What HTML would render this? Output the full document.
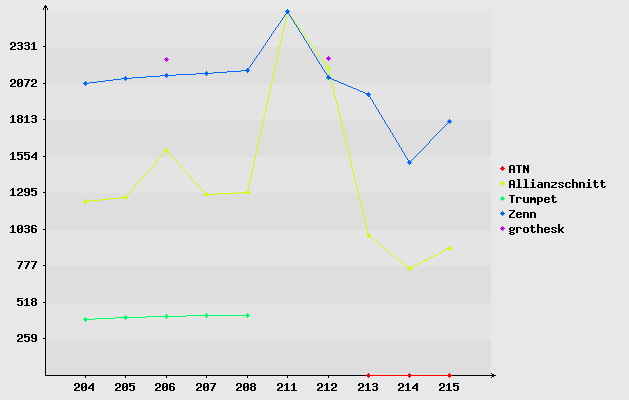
<!DOCTYPE html><html><head><meta charset="utf-8"><title>chart</title><style>
html,body{margin:0;padding:0;background:#e8e8e8;}body{width:629px;height:400px;overflow:hidden;}svg{display:block;}
</style></head><body>
<svg width="629" height="400" viewBox="0 0 629 400" shape-rendering="crispEdges">
<rect x="0" y="0" width="629" height="400" fill="#e8e8e8"/>
<rect x="46" y="10" width="445" height="37" fill="#e4e4e4"/>
<rect x="46" y="47" width="445" height="37" fill="#dedede"/>
<rect x="46" y="84" width="445" height="36" fill="#e4e4e4"/>
<rect x="46" y="120" width="445" height="37" fill="#dedede"/>
<rect x="46" y="157" width="445" height="36" fill="#e4e4e4"/>
<rect x="46" y="193" width="445" height="37" fill="#dedede"/>
<rect x="46" y="230" width="445" height="36" fill="#e4e4e4"/>
<rect x="46" y="266" width="445" height="37" fill="#dedede"/>
<rect x="46" y="303" width="445" height="36" fill="#e4e4e4"/>
<rect x="46" y="339" width="445" height="37" fill="#dedede"/>
<path fill="#000000" d="M43 8h1v2h-1zM43 46h3v1h-3zM43 83h3v1h-3zM43 119h3v1h-3zM43 156h3v1h-3zM43 192h3v1h-3zM43 229h3v1h-3zM43 265h3v1h-3zM43 302h3v1h-3zM43 338h3v1h-3zM44 6h3v2h-3zM45 5h1v1h-1zM45 8h1v38h-1zM45 47h1v36h-1zM45 84h1v35h-1zM45 120h1v36h-1zM45 157h1v35h-1zM45 193h1v36h-1zM45 230h1v35h-1zM45 266h1v36h-1zM45 303h1v35h-1zM45 339h1v36h-1zM45 375h451v1h-451zM47 8h1v2h-1zM85 376h1v2h-1zM125 376h1v2h-1zM166 376h1v2h-1zM206 376h1v2h-1zM247 376h1v2h-1zM287 376h1v2h-1zM328 376h1v2h-1zM368 376h1v2h-1zM409 376h1v2h-1zM449 376h1v2h-1zM491 373h1v1h-1zM491 377h1v1h-1zM492 374h2v1h-2zM492 376h2v1h-2z"/>
<path fill="#ff0000" d="M366 375h86v1h-86zM367 374h3v1h-3zM367 376h3v1h-3zM368 373h1v1h-1zM368 377h1v1h-1zM408 374h3v1h-3zM408 376h3v1h-3zM409 373h1v1h-1zM409 377h1v1h-1zM448 374h3v1h-3zM448 376h3v1h-3zM449 373h1v1h-1zM449 377h1v1h-1z"/>
<path fill="#ccff00" d="M83 201h7v1h-7zM84 200h3v1h-3zM84 202h3v1h-3zM85 199h1v1h-1zM85 203h1v1h-1zM90 200h10v1h-10zM100 199h10v1h-10zM110 198h10v1h-10zM120 197h8v1h-8zM124 196h3v1h-3zM124 198h3v1h-3zM125 195h1v1h-1zM125 199h1v1h-1zM127 195h1v1h-1zM128 193h1v2h-1zM129 192h1v1h-1zM130 191h1v1h-1zM131 190h1v1h-1zM132 189h1v1h-1zM133 188h1v1h-1zM134 187h1v1h-1zM135 185h1v2h-1zM136 184h1v1h-1zM137 183h1v1h-1zM138 182h1v1h-1zM139 181h1v1h-1zM140 180h1v1h-1zM141 179h1v1h-1zM142 177h1v2h-1zM143 176h1v1h-1zM144 175h1v1h-1zM145 174h1v1h-1zM146 173h1v1h-1zM147 172h1v1h-1zM148 171h1v1h-1zM149 169h1v2h-1zM150 168h1v1h-1zM151 167h1v1h-1zM152 166h1v1h-1zM153 165h1v1h-1zM154 164h1v1h-1zM155 163h1v1h-1zM156 161h1v2h-1zM157 160h1v1h-1zM158 159h1v1h-1zM159 158h1v1h-1zM160 157h1v1h-1zM161 156h1v1h-1zM162 155h1v1h-1zM163 153h1v2h-1zM164 152h1v1h-1zM164 150h5v1h-5zM165 149h3v1h-3zM165 151h3v1h-3zM166 148h1v1h-1zM166 152h1v1h-1zM168 152h1v1h-1zM169 153h1v1h-1zM170 154h1v1h-1zM171 155h1v2h-1zM172 157h1v1h-1zM173 158h1v1h-1zM174 159h1v1h-1zM175 160h1v1h-1zM176 161h1v1h-1zM177 162h1v1h-1zM178 163h1v1h-1zM179 164h1v1h-1zM180 165h1v1h-1zM181 166h1v2h-1zM182 168h1v1h-1zM183 169h1v1h-1zM184 170h1v1h-1zM185 171h1v1h-1zM186 172h1v1h-1zM187 173h1v1h-1zM188 174h1v1h-1zM189 175h1v1h-1zM190 176h1v1h-1zM191 177h1v2h-1zM192 179h1v1h-1zM193 180h1v1h-1zM194 181h1v1h-1zM195 182h1v1h-1zM196 183h1v1h-1zM197 184h1v1h-1zM198 185h1v1h-1zM199 186h1v1h-1zM200 187h1v1h-1zM201 188h1v2h-1zM202 190h1v1h-1zM203 191h1v1h-1zM204 192h1v1h-1zM204 194h13v1h-13zM205 193h3v1h-3zM205 195h3v1h-3zM206 192h1v1h-1zM206 196h1v1h-1zM217 193h20v1h-20zM237 192h13v1h-13zM246 191h3v1h-3zM246 193h3v1h-3zM247 190h1v1h-1zM247 194h1v1h-1zM248 186h1v4h-1zM249 181h1v5h-1zM250 177h1v4h-1zM251 172h1v5h-1zM252 168h1v4h-1zM253 163h1v5h-1zM254 159h1v4h-1zM255 154h1v5h-1zM256 150h1v4h-1zM257 145h1v5h-1zM258 140h1v5h-1zM259 136h1v4h-1zM260 131h1v5h-1zM261 127h1v4h-1zM262 122h1v5h-1zM263 118h1v4h-1zM264 113h1v5h-1zM265 109h1v4h-1zM266 104h1v5h-1zM267 100h1v4h-1zM268 95h1v5h-1zM269 91h1v4h-1zM270 86h1v5h-1zM271 82h1v4h-1zM272 77h1v5h-1zM273 73h1v4h-1zM274 68h1v5h-1zM275 64h1v4h-1zM276 59h1v5h-1zM277 54h1v5h-1zM278 50h1v4h-1zM279 45h1v5h-1zM280 41h1v4h-1zM281 36h1v5h-1zM282 32h1v4h-1zM283 27h1v5h-1zM284 23h1v4h-1zM285 18h1v5h-1zM285 11h5v1h-5zM286 14h1v4h-1zM286 10h3v1h-3zM286 12h3v1h-3zM287 9h1v1h-1zM287 13h2v1h-2zM289 14h1v1h-1zM290 15h1v1h-1zM291 16h1v2h-1zM292 18h1v1h-1zM293 19h1v2h-1zM294 21h1v1h-1zM295 22h1v1h-1zM296 23h1v2h-1zM297 25h1v1h-1zM298 26h1v1h-1zM299 27h1v2h-1zM300 29h1v1h-1zM301 30h1v2h-1zM302 32h1v1h-1zM303 33h1v1h-1zM304 34h1v2h-1zM305 36h1v1h-1zM306 37h1v2h-1zM307 39h1v1h-1zM308 40h1v1h-1zM309 41h1v2h-1zM310 43h1v1h-1zM311 44h1v2h-1zM312 46h1v1h-1zM313 47h1v1h-1zM314 48h1v2h-1zM315 50h1v1h-1zM316 51h1v2h-1zM317 53h1v1h-1zM318 54h1v1h-1zM319 55h1v2h-1zM320 57h1v1h-1zM321 58h1v1h-1zM322 59h1v2h-1zM323 61h1v1h-1zM324 62h1v2h-1zM325 64h1v1h-1zM326 65h1v1h-1zM326 68h5v1h-5zM327 66h2v1h-2zM327 67h3v1h-3zM327 69h3v1h-3zM328 70h1v1h-1zM329 71h1v4h-1zM330 75h1v4h-1zM331 79h1v4h-1zM332 83h1v4h-1zM333 87h1v4h-1zM334 91h1v5h-1zM335 96h1v4h-1zM336 100h1v4h-1zM337 104h1v4h-1zM338 108h1v4h-1zM339 112h1v5h-1zM340 117h1v4h-1zM341 121h1v4h-1zM342 125h1v4h-1zM343 129h1v4h-1zM344 133h1v4h-1zM345 137h1v5h-1zM346 142h1v4h-1zM347 146h1v4h-1zM348 150h1v4h-1zM349 154h1v4h-1zM350 158h1v4h-1zM351 162h1v5h-1zM352 167h1v4h-1zM353 171h1v4h-1zM354 175h1v4h-1zM355 179h1v4h-1zM356 183h1v4h-1zM357 187h1v5h-1zM358 192h1v4h-1zM359 196h1v4h-1zM360 200h1v4h-1zM361 204h1v4h-1zM362 208h1v5h-1zM363 213h1v4h-1zM364 217h1v4h-1zM365 221h1v4h-1zM366 225h1v4h-1zM366 235h5v1h-5zM367 229h1v4h-1zM367 234h3v1h-3zM367 236h3v1h-3zM368 233h1v1h-1zM368 237h1v1h-1zM370 237h2v1h-2zM372 238h1v1h-1zM373 239h1v1h-1zM374 240h1v1h-1zM375 241h2v1h-2zM377 242h1v1h-1zM378 243h1v1h-1zM379 244h1v1h-1zM380 245h2v1h-2zM382 246h1v1h-1zM383 247h1v1h-1zM384 248h1v1h-1zM385 249h2v1h-2zM387 250h1v1h-1zM388 251h1v1h-1zM389 252h1v1h-1zM390 253h1v1h-1zM391 254h2v1h-2zM393 255h1v1h-1zM394 256h1v1h-1zM395 257h1v1h-1zM396 258h2v1h-2zM398 259h1v1h-1zM399 260h1v1h-1zM400 261h1v1h-1zM401 262h2v1h-2zM403 263h1v1h-1zM404 264h1v1h-1zM405 265h1v1h-1zM406 266h2v1h-2zM407 268h5v1h-5zM408 269h3v1h-3zM408 267h4v1h-4zM409 266h1v1h-1zM409 270h1v1h-1zM412 266h2v1h-2zM414 265h2v1h-2zM416 264h2v1h-2zM418 263h2v1h-2zM420 262h2v1h-2zM422 261h2v1h-2zM424 260h2v1h-2zM426 259h2v1h-2zM428 258h2v1h-2zM430 257h2v1h-2zM432 256h2v1h-2zM434 255h2v1h-2zM436 254h2v1h-2zM438 253h2v1h-2zM440 252h2v1h-2zM442 251h2v1h-2zM444 250h2v1h-2zM446 249h5v1h-5zM447 248h5v1h-5zM448 247h3v1h-3zM449 246h1v1h-1zM449 250h1v1h-1z"/>
<path fill="#00ff66" d="M83 319h12v1h-12zM84 318h3v1h-3zM84 320h3v1h-3zM85 317h1v1h-1zM85 321h1v1h-1zM95 318h20v1h-20zM115 317h31v1h-31zM124 316h3v1h-3zM124 318h3v1h-3zM125 315h1v1h-1zM125 319h1v1h-1zM146 316h40v1h-40zM165 315h3v1h-3zM165 317h3v1h-3zM166 314h1v1h-1zM166 318h1v1h-1zM186 315h64v1h-64zM205 314h3v1h-3zM205 316h3v1h-3zM206 313h1v1h-1zM206 317h1v1h-1zM246 314h3v1h-3zM246 316h3v1h-3zM247 313h1v1h-1zM247 317h1v1h-1z"/>
<path fill="#0066ff" d="M83 83h6v1h-6zM84 82h3v1h-3zM84 84h3v1h-3zM85 81h1v1h-1zM85 85h1v1h-1zM89 82h8v1h-8zM97 81h8v1h-8zM105 80h8v1h-8zM113 79h8v1h-8zM121 78h11v1h-11zM124 77h3v1h-3zM124 79h3v1h-3zM125 76h1v1h-1zM125 80h1v1h-1zM132 77h14v1h-14zM146 76h14v1h-14zM160 75h16v1h-16zM165 74h3v1h-3zM165 76h3v1h-3zM166 73h1v1h-1zM166 77h1v1h-1zM176 74h20v1h-20zM196 73h17v1h-17zM205 72h3v1h-3zM205 74h3v1h-3zM206 71h1v1h-1zM206 75h1v1h-1zM213 72h14v1h-14zM227 71h14v1h-14zM241 70h9v1h-9zM246 69h3v1h-3zM246 71h3v1h-3zM247 72h1v1h-1zM247 68h2v1h-2zM249 67h1v1h-1zM250 65h1v2h-1zM251 64h1v1h-1zM252 62h1v2h-1zM253 61h1v1h-1zM254 59h1v2h-1zM255 58h1v1h-1zM256 56h1v2h-1zM257 55h1v1h-1zM258 54h1v1h-1zM259 52h1v2h-1zM260 51h1v1h-1zM261 49h1v2h-1zM262 48h1v1h-1zM263 46h1v2h-1zM264 45h1v1h-1zM265 43h1v2h-1zM266 42h1v1h-1zM267 40h1v2h-1zM268 39h1v1h-1zM269 37h1v2h-1zM270 36h1v1h-1zM271 34h1v2h-1zM272 33h1v1h-1zM273 31h1v2h-1zM274 30h1v1h-1zM275 28h1v2h-1zM276 27h1v1h-1zM277 26h1v1h-1zM278 24h1v2h-1zM279 23h1v1h-1zM280 21h1v2h-1zM281 20h1v1h-1zM282 18h1v2h-1zM283 17h1v1h-1zM284 15h1v2h-1zM285 14h1v1h-1zM285 11h5v1h-5zM286 10h3v1h-3zM286 12h3v2h-3zM287 9h1v1h-1zM289 14h1v2h-1zM290 16h1v1h-1zM291 17h1v2h-1zM292 19h1v1h-1zM293 20h1v2h-1zM294 22h1v2h-1zM295 24h1v1h-1zM296 25h1v2h-1zM297 27h1v1h-1zM298 28h1v2h-1zM299 30h1v2h-1zM300 32h1v1h-1zM301 33h1v2h-1zM302 35h1v1h-1zM303 36h1v2h-1zM304 38h1v2h-1zM305 40h1v1h-1zM306 41h1v2h-1zM307 43h1v1h-1zM308 44h1v2h-1zM309 46h1v2h-1zM310 48h1v1h-1zM311 49h1v2h-1zM312 51h1v2h-1zM313 53h1v1h-1zM314 54h1v2h-1zM315 56h1v1h-1zM316 57h1v2h-1zM317 59h1v2h-1zM318 61h1v1h-1zM319 62h1v2h-1zM320 64h1v1h-1zM321 65h1v2h-1zM322 67h1v2h-1zM323 69h1v1h-1zM324 70h1v2h-1zM325 72h1v1h-1zM326 73h1v2h-1zM326 77h5v1h-5zM327 75h2v1h-2zM327 76h3v1h-3zM327 78h5v1h-5zM328 79h1v1h-1zM332 79h2v1h-2zM334 80h3v1h-3zM337 81h2v1h-2zM339 82h2v1h-2zM341 83h3v1h-3zM344 84h2v1h-2zM346 85h2v1h-2zM348 86h3v1h-3zM351 87h2v1h-2zM353 88h3v1h-3zM356 89h2v1h-2zM358 90h2v1h-2zM360 91h3v1h-3zM363 92h2v1h-2zM365 93h5v1h-5zM366 94h5v1h-5zM367 95h3v1h-3zM368 92h1v1h-1zM368 96h2v1h-2zM370 97h1v2h-1zM371 99h1v1h-1zM372 100h1v2h-1zM373 102h1v2h-1zM374 104h1v1h-1zM375 105h1v2h-1zM376 107h1v2h-1zM377 109h1v1h-1zM378 110h1v2h-1zM379 112h1v2h-1zM380 114h1v1h-1zM381 115h1v2h-1zM382 117h1v2h-1zM383 119h1v1h-1zM384 120h1v2h-1zM385 122h1v2h-1zM386 124h1v1h-1zM387 125h1v2h-1zM388 127h1v1h-1zM389 128h1v2h-1zM390 130h1v2h-1zM391 132h1v1h-1zM392 133h1v2h-1zM393 135h1v2h-1zM394 137h1v1h-1zM395 138h1v2h-1zM396 140h1v2h-1zM397 142h1v1h-1zM398 143h1v2h-1zM399 145h1v2h-1zM400 147h1v1h-1zM401 148h1v2h-1zM402 150h1v2h-1zM403 152h1v1h-1zM404 153h1v2h-1zM405 155h1v2h-1zM406 157h1v1h-1zM407 158h1v2h-1zM407 162h5v1h-5zM408 160h2v1h-2zM408 161h3v1h-3zM408 163h3v1h-3zM409 164h1v1h-1zM411 160h1v1h-1zM412 159h1v1h-1zM413 158h1v1h-1zM414 157h1v1h-1zM415 156h1v1h-1zM416 155h1v1h-1zM417 154h1v1h-1zM418 153h1v1h-1zM419 152h1v1h-1zM420 151h1v1h-1zM421 150h1v1h-1zM422 149h1v1h-1zM423 148h1v1h-1zM424 147h1v1h-1zM425 146h1v1h-1zM426 145h1v1h-1zM427 144h1v1h-1zM428 143h1v1h-1zM429 141h1v2h-1zM430 140h1v1h-1zM431 139h1v1h-1zM432 138h1v1h-1zM433 137h1v1h-1zM434 136h1v1h-1zM435 135h1v1h-1zM436 134h1v1h-1zM437 133h1v1h-1zM438 132h1v1h-1zM439 131h1v1h-1zM440 130h1v1h-1zM441 129h1v1h-1zM442 128h1v1h-1zM443 127h1v1h-1zM444 126h1v1h-1zM445 125h1v1h-1zM446 124h1v1h-1zM447 123h1v1h-1zM447 121h5v1h-5zM448 120h3v1h-3zM448 122h3v1h-3zM449 119h1v1h-1zM449 123h1v1h-1z"/>
<path fill="#cc00ff" d="M164 59h5v1h-5zM165 58h3v1h-3zM165 60h3v1h-3zM166 57h1v1h-1zM166 61h1v1h-1zM326 58h5v1h-5zM327 57h3v1h-3zM327 59h3v1h-3zM328 56h1v1h-1zM328 60h1v1h-1z"/>
<path fill="#ff0000" d="M500 168h5v1h-5zM501 167h3v1h-3zM501 169h3v1h-3zM502 166h1v1h-1zM502 170h1v1h-1z"/>
<path fill="#ccff00" d="M500 183h5v1h-5zM501 182h3v1h-3zM501 184h3v1h-3zM502 181h1v1h-1zM502 185h1v1h-1z"/>
<path fill="#00ff66" d="M500 198h5v1h-5zM501 197h3v1h-3zM501 199h3v1h-3zM502 196h1v1h-1zM502 200h1v1h-1z"/>
<path fill="#0066ff" d="M500 213h5v1h-5zM501 212h3v1h-3zM501 214h3v1h-3zM502 211h1v1h-1zM502 215h1v1h-1z"/>
<path fill="#cc00ff" d="M500 228h5v1h-5zM501 227h3v1h-3zM501 229h3v1h-3zM502 226h1v1h-1zM502 230h1v1h-1z"/>
<path fill="#000000" d="M10 117h1v1h-1zM10 154h1v1h-1zM10 190h1v1h-1zM10 227h1v1h-1zM10 43h2v2h-2zM10 48h2v1h-2zM10 80h2v2h-2zM10 85h2v1h-2zM10 49h6v1h-6zM10 86h6v1h-6zM10 122h6v1h-6zM10 159h6v1h-6zM10 195h6v1h-6zM10 232h6v1h-6zM11 47h2v1h-2zM11 84h2v1h-2zM11 116h3v1h-3zM11 153h3v1h-3zM11 189h3v1h-3zM11 226h3v1h-3zM11 42h4v1h-4zM11 79h4v1h-4zM12 115h2v1h-2zM12 117h2v5h-2zM12 152h2v1h-2zM12 154h2v5h-2zM12 188h2v1h-2zM12 190h2v5h-2zM12 225h2v1h-2zM12 227h2v5h-2zM12 46h3v1h-3zM12 83h3v1h-3zM14 43h2v3h-2zM14 80h2v3h-2zM17 43h2v1h-2zM17 48h2v1h-2zM17 80h2v3h-2zM17 84h2v2h-2zM17 116h2v2h-2zM17 119h2v3h-2zM17 153h2v1h-2zM17 155h2v1h-2zM17 158h2v1h-2zM17 189h2v2h-2zM17 194h2v1h-2zM17 226h2v3h-2zM17 230h2v2h-2zM17 299h2v1h-2zM17 301h2v1h-2zM17 304h2v1h-2zM17 335h2v2h-2zM17 340h2v1h-2zM17 83h3v1h-3zM17 229h3v1h-3zM17 154h5v1h-5zM17 300h5v1h-5zM17 152h6v1h-6zM17 195h6v1h-6zM17 261h6v1h-6zM17 298h6v1h-6zM17 341h6v1h-6zM18 193h2v1h-2zM18 267h2v2h-2zM18 339h2v1h-2zM18 42h4v1h-4zM18 45h4v1h-4zM18 49h4v1h-4zM18 79h4v1h-4zM18 86h4v1h-4zM18 115h4v1h-4zM18 118h4v1h-4zM18 122h4v1h-4zM18 159h4v1h-4zM18 188h4v1h-4zM18 225h4v1h-4zM18 232h4v1h-4zM18 305h4v1h-4zM18 334h4v1h-4zM19 265h2v2h-2zM19 192h3v1h-3zM19 338h3v1h-3zM20 263h2v2h-2zM20 82h3v1h-3zM20 228h3v1h-3zM21 43h2v2h-2zM21 46h2v3h-2zM21 80h2v2h-2zM21 83h2v3h-2zM21 116h2v2h-2zM21 119h2v3h-2zM21 155h2v4h-2zM21 189h2v3h-2zM21 226h2v2h-2zM21 229h2v3h-2zM21 262h2v1h-2zM21 301h2v4h-2zM21 335h2v3h-2zM24 117h1v1h-1zM24 300h1v1h-1zM24 43h2v1h-2zM24 48h2v1h-2zM24 153h2v1h-2zM24 155h2v1h-2zM24 158h2v1h-2zM24 189h2v3h-2zM24 194h2v1h-2zM24 226h2v1h-2zM24 231h2v1h-2zM24 335h2v1h-2zM24 337h2v1h-2zM24 340h2v1h-2zM24 154h5v1h-5zM24 336h5v1h-5zM24 79h6v1h-6zM24 122h6v1h-6zM24 152h6v1h-6zM24 261h6v1h-6zM24 305h6v1h-6zM24 334h6v1h-6zM25 85h2v2h-2zM25 267h2v2h-2zM25 116h3v1h-3zM25 299h3v1h-3zM25 42h4v1h-4zM25 45h4v1h-4zM25 49h4v1h-4zM25 159h4v1h-4zM25 188h4v1h-4zM25 195h4v1h-4zM25 225h4v1h-4zM25 228h4v1h-4zM25 232h4v1h-4zM25 341h4v1h-4zM25 192h5v1h-5zM26 83h2v2h-2zM26 115h2v1h-2zM26 117h2v5h-2zM26 265h2v2h-2zM26 298h2v1h-2zM26 300h2v5h-2zM27 81h2v2h-2zM27 263h2v2h-2zM28 43h2v2h-2zM28 46h2v3h-2zM28 80h2v1h-2zM28 155h2v4h-2zM28 189h2v3h-2zM28 193h2v2h-2zM28 226h2v2h-2zM28 229h2v3h-2zM28 262h2v1h-2zM28 337h2v4h-2zM31 44h1v1h-1zM31 80h2v2h-2zM31 85h2v1h-2zM31 116h2v1h-2zM31 121h2v1h-2zM31 156h2v1h-2zM31 189h2v1h-2zM31 191h2v1h-2zM31 194h2v1h-2zM31 226h2v2h-2zM31 229h2v3h-2zM31 299h2v2h-2zM31 302h2v3h-2zM31 335h2v3h-2zM31 340h2v1h-2zM31 190h5v1h-5zM31 228h5v1h-5zM31 49h6v1h-6zM31 86h6v1h-6zM31 157h6v1h-6zM31 188h6v1h-6zM31 261h6v1h-6zM32 84h2v1h-2zM32 155h2v1h-2zM32 267h2v2h-2zM32 43h3v1h-3zM32 79h4v1h-4zM32 115h4v1h-4zM32 118h4v1h-4zM32 122h4v1h-4zM32 195h4v1h-4zM32 225h4v1h-4zM32 232h4v1h-4zM32 298h4v1h-4zM32 301h4v1h-4zM32 305h4v1h-4zM32 334h4v1h-4zM32 341h4v1h-4zM32 338h5v1h-5zM33 42h2v1h-2zM33 44h2v5h-2zM33 265h2v2h-2zM33 83h3v1h-3zM33 154h4v1h-4zM34 263h2v2h-2zM34 153h3v1h-3zM35 80h2v3h-2zM35 116h2v2h-2zM35 119h2v3h-2zM35 152h2v1h-2zM35 155h2v2h-2zM35 158h2v2h-2zM35 191h2v4h-2zM35 226h2v1h-2zM35 229h2v3h-2zM35 262h2v1h-2zM35 299h2v2h-2zM35 302h2v3h-2zM35 335h2v3h-2zM35 339h2v2h-2zM74 384h2v2h-2zM74 389h2v1h-2zM74 390h6v1h-6zM75 388h2v1h-2zM75 383h4v1h-4zM76 387h3v1h-3zM78 384h2v3h-2zM81 384h2v3h-2zM81 388h2v2h-2zM81 387h3v1h-3zM82 383h4v1h-4zM82 390h4v1h-4zM84 386h3v1h-3zM85 384h2v2h-2zM85 387h2v3h-2zM88 387h2v1h-2zM88 388h6v1h-6zM89 386h2v1h-2zM90 385h4v1h-4zM91 384h3v1h-3zM92 383h2v1h-2zM92 386h2v2h-2zM92 389h2v2h-2zM115 384h2v2h-2zM115 389h2v1h-2zM115 390h6v1h-6zM116 388h2v1h-2zM116 383h4v1h-4zM117 387h3v1h-3zM119 384h2v3h-2zM122 384h2v3h-2zM122 388h2v2h-2zM122 387h3v1h-3zM123 383h4v1h-4zM123 390h4v1h-4zM125 386h3v1h-3zM126 384h2v2h-2zM126 387h2v3h-2zM129 384h2v1h-2zM129 386h2v1h-2zM129 389h2v1h-2zM129 385h5v1h-5zM129 383h6v1h-6zM130 390h4v1h-4zM133 386h2v4h-2zM155 384h2v2h-2zM155 389h2v1h-2zM155 390h6v1h-6zM156 388h2v1h-2zM156 383h4v1h-4zM157 387h3v1h-3zM159 384h2v3h-2zM162 384h2v3h-2zM162 388h2v2h-2zM162 387h3v1h-3zM163 383h4v1h-4zM163 390h4v1h-4zM165 386h3v1h-3zM166 384h2v2h-2zM166 387h2v3h-2zM169 384h2v2h-2zM169 387h2v3h-2zM169 386h5v1h-5zM170 383h4v1h-4zM170 390h4v1h-4zM173 384h2v1h-2zM173 387h2v3h-2zM196 384h2v2h-2zM196 389h2v1h-2zM196 390h6v1h-6zM197 388h2v1h-2zM197 383h4v1h-4zM198 387h3v1h-3zM200 384h2v3h-2zM203 384h2v3h-2zM203 388h2v2h-2zM203 387h3v1h-3zM204 383h4v1h-4zM204 390h4v1h-4zM206 386h3v1h-3zM207 384h2v2h-2zM207 387h2v3h-2zM210 383h6v1h-6zM211 389h2v2h-2zM212 387h2v2h-2zM213 385h2v2h-2zM214 384h2v1h-2zM236 384h2v2h-2zM236 389h2v1h-2zM236 390h6v1h-6zM237 388h2v1h-2zM237 383h4v1h-4zM238 387h3v1h-3zM240 384h2v3h-2zM243 384h2v3h-2zM243 388h2v2h-2zM243 387h3v1h-3zM244 383h4v1h-4zM244 390h4v1h-4zM246 386h3v1h-3zM247 384h2v2h-2zM247 387h2v3h-2zM250 384h2v2h-2zM250 387h2v3h-2zM251 383h4v1h-4zM251 386h4v1h-4zM251 390h4v1h-4zM254 384h2v2h-2zM254 387h2v3h-2zM277 384h2v2h-2zM277 389h2v1h-2zM277 390h6v1h-6zM278 388h2v1h-2zM278 383h4v1h-4zM279 387h3v1h-3zM281 384h2v3h-2zM284 385h1v1h-1zM284 390h6v1h-6zM285 384h3v1h-3zM286 383h2v1h-2zM286 385h2v5h-2zM291 385h1v1h-1zM291 390h6v1h-6zM292 384h3v1h-3zM293 383h2v1h-2zM293 385h2v5h-2zM317 384h2v2h-2zM317 389h2v1h-2zM317 390h6v1h-6zM318 388h2v1h-2zM318 383h4v1h-4zM319 387h3v1h-3zM321 384h2v3h-2zM324 385h1v1h-1zM324 390h6v1h-6zM325 384h3v1h-3zM326 383h2v1h-2zM326 385h2v5h-2zM331 384h2v2h-2zM331 389h2v1h-2zM331 390h6v1h-6zM332 388h2v1h-2zM332 383h4v1h-4zM333 387h3v1h-3zM335 384h2v3h-2zM358 384h2v2h-2zM358 389h2v1h-2zM358 390h6v1h-6zM359 388h2v1h-2zM359 383h4v1h-4zM360 387h3v1h-3zM362 384h2v3h-2zM365 385h1v1h-1zM365 390h6v1h-6zM366 384h3v1h-3zM367 383h2v1h-2zM367 385h2v5h-2zM372 384h2v1h-2zM372 389h2v1h-2zM373 383h4v1h-4zM373 386h4v1h-4zM373 390h4v1h-4zM376 384h2v2h-2zM376 387h2v3h-2zM398 384h2v2h-2zM398 389h2v1h-2zM398 390h6v1h-6zM399 388h2v1h-2zM399 383h4v1h-4zM400 387h3v1h-3zM402 384h2v3h-2zM405 385h1v1h-1zM405 390h6v1h-6zM406 384h3v1h-3zM407 383h2v1h-2zM407 385h2v5h-2zM412 387h2v1h-2zM412 388h6v1h-6zM413 386h2v1h-2zM414 385h4v1h-4zM415 384h3v1h-3zM416 383h2v1h-2zM416 386h2v2h-2zM416 389h2v2h-2zM439 384h2v2h-2zM439 389h2v1h-2zM439 390h6v1h-6zM440 388h2v1h-2zM440 383h4v1h-4zM441 387h3v1h-3zM443 384h2v3h-2zM446 385h1v1h-1zM446 390h6v1h-6zM447 384h3v1h-3zM448 383h2v1h-2zM448 385h2v5h-2zM453 384h2v1h-2zM453 386h2v1h-2zM453 389h2v1h-2zM453 385h5v1h-5zM453 383h6v1h-6zM454 390h4v1h-4zM457 386h2v4h-2zM509 166h2v3h-2zM509 170h2v3h-2zM509 181h2v3h-2zM509 185h2v3h-2zM509 215h2v2h-2zM509 228h2v2h-2zM509 231h2v1h-2zM509 233h2v1h-2zM509 169h6v1h-6zM509 184h6v1h-6zM509 195h6v1h-6zM509 210h6v1h-6zM509 217h6v1h-6zM510 214h2v1h-2zM510 227h3v1h-3zM510 165h4v1h-4zM510 180h4v1h-4zM510 230h4v1h-4zM510 232h4v1h-4zM510 234h4v1h-4zM511 196h2v7h-2zM511 213h2v1h-2zM512 212h2v1h-2zM513 166h2v3h-2zM513 170h2v3h-2zM513 181h2v3h-2zM513 185h2v3h-2zM513 211h2v1h-2zM513 228h2v2h-2zM513 233h2v1h-2zM514 227h1v1h-1zM516 198h2v5h-2zM516 213h2v1h-2zM516 215h2v2h-2zM516 228h2v5h-2zM516 197h5v1h-5zM516 227h5v1h-5zM516 165h6v1h-6zM516 187h6v1h-6zM516 214h6v1h-6zM517 179h3v1h-3zM517 212h4v1h-4zM517 217h4v1h-4zM518 166h2v7h-2zM518 180h2v7h-2zM520 198h2v1h-2zM520 213h2v1h-2zM520 216h2v1h-2zM520 228h2v1h-2zM523 165h2v1h-2zM523 169h2v4h-2zM523 197h2v5h-2zM523 213h2v5h-2zM523 228h2v4h-2zM523 166h3v2h-3zM523 212h5v1h-5zM523 168h6v1h-6zM523 187h6v1h-6zM524 179h3v1h-3zM524 227h4v1h-4zM524 232h4v1h-4zM524 202h5v1h-5zM525 180h2v7h-2zM526 169h3v2h-3zM527 165h2v3h-2zM527 171h2v2h-2zM527 197h2v5h-2zM527 213h2v5h-2zM527 228h2v4h-2zM530 197h2v1h-2zM530 200h2v3h-2zM530 213h2v5h-2zM530 212h5v1h-5zM530 227h5v1h-5zM530 187h6v1h-6zM530 198h6v2h-6zM531 225h2v2h-2zM531 228h2v4h-2zM531 182h3v1h-3zM532 179h2v2h-2zM532 183h2v4h-2zM532 232h3v1h-3zM533 197h2v1h-2zM534 200h2v3h-2zM534 213h2v5h-2zM534 231h2v1h-2zM537 185h2v2h-2zM537 198h2v3h-2zM537 202h2v3h-2zM537 224h2v3h-2zM537 228h2v5h-2zM537 197h5v1h-5zM537 201h5v1h-5zM537 227h5v1h-5zM538 182h4v1h-4zM538 184h5v1h-5zM538 187h5v1h-5zM541 183h2v1h-2zM541 185h2v2h-2zM541 198h2v3h-2zM541 228h2v5h-2zM544 183h2v5h-2zM544 198h2v1h-2zM544 200h2v2h-2zM544 228h2v1h-2zM544 230h2v2h-2zM544 182h5v1h-5zM544 199h6v1h-6zM544 229h6v1h-6zM545 197h4v1h-4zM545 202h4v1h-4zM545 227h4v1h-4zM545 232h4v1h-4zM548 183h2v5h-2zM548 198h2v1h-2zM548 201h2v1h-2zM548 228h2v1h-2zM548 231h2v1h-2zM551 186h2v1h-2zM551 228h2v1h-2zM551 231h2v1h-2zM551 197h5v1h-5zM551 182h6v1h-6zM551 187h6v1h-6zM552 185h2v1h-2zM552 195h2v2h-2zM552 198h2v4h-2zM552 229h2v1h-2zM552 227h4v1h-4zM552 232h4v1h-4zM553 202h3v1h-3zM554 184h2v1h-2zM554 230h2v1h-2zM555 183h2v1h-2zM555 201h2v1h-2zM555 228h2v1h-2zM555 231h2v1h-2zM558 183h2v1h-2zM558 186h2v1h-2zM558 224h2v5h-2zM558 231h2v2h-2zM558 229h4v2h-4zM559 184h2v1h-2zM559 182h4v1h-4zM559 187h4v1h-4zM561 185h2v1h-2zM561 228h2v1h-2zM561 231h2v1h-2zM562 183h2v1h-2zM562 186h2v1h-2zM562 227h2v1h-2zM562 232h2v1h-2zM565 183h2v4h-2zM566 182h4v1h-4zM566 187h4v1h-4zM569 183h2v1h-2zM569 186h2v1h-2zM572 179h2v3h-2zM572 183h2v5h-2zM572 182h5v1h-5zM576 183h2v5h-2zM579 183h2v5h-2zM579 182h5v1h-5zM583 183h2v5h-2zM586 187h6v1h-6zM587 182h3v1h-3zM588 179h2v2h-2zM588 183h2v4h-2zM593 182h5v1h-5zM594 180h2v2h-2zM594 183h2v4h-2zM595 187h3v1h-3zM597 186h2v1h-2zM600 182h5v1h-5zM601 180h2v2h-2zM601 183h2v4h-2zM602 187h3v1h-3zM604 186h2v1h-2z"/>
</svg></body></html>
